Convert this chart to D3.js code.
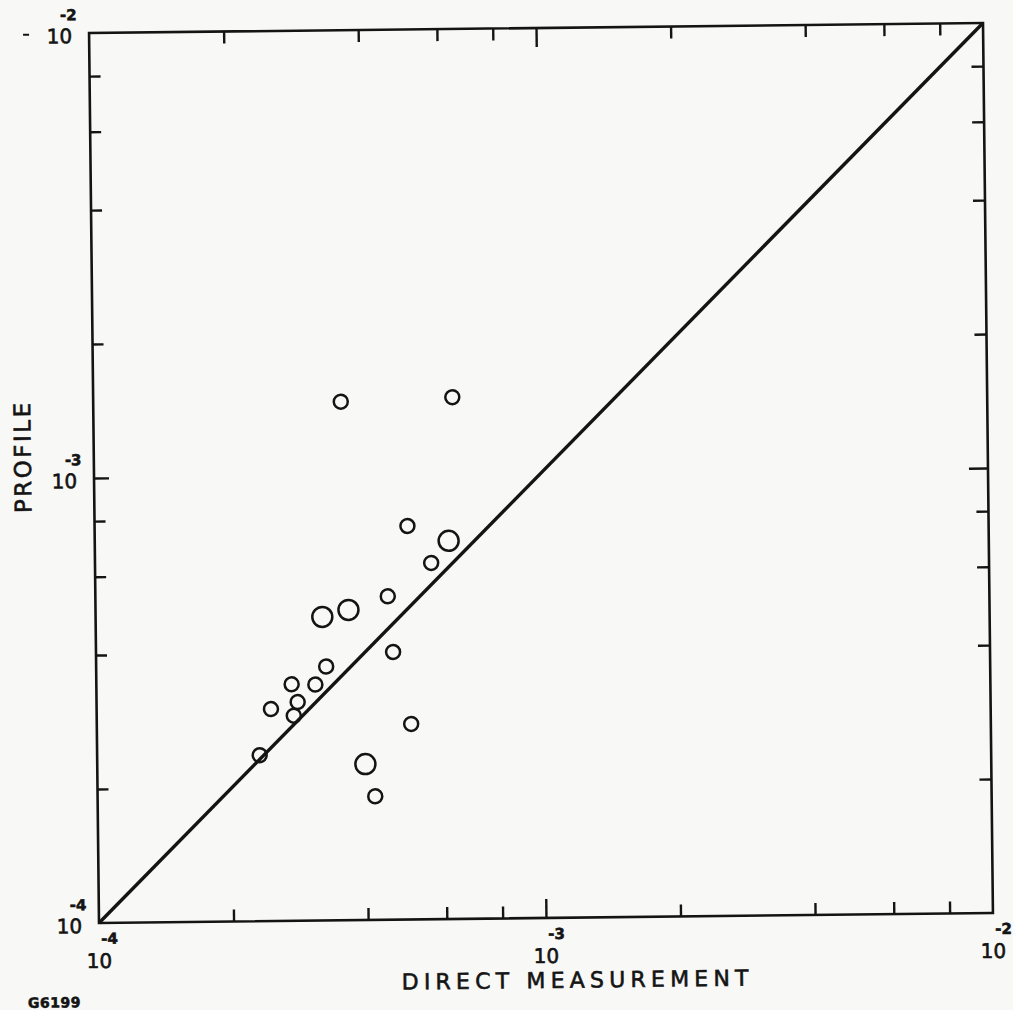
<!DOCTYPE html>
<html><head><meta charset="utf-8">
<script src="https://cdn.jsdelivr.net/npm/d3@7"></script>
<style>body{margin:0;background:#f8f8f6} svg{display:block}</style>
</head><body><svg id="c" width="1013" height="1010"></svg>
<script>
// ---- data ----
const directMeasurement = [3.58e-4, 6.36e-4, 5.01e-4, 6.19e-4, 5.65e-4, 4.51e-4, 3.215e-4, 3.68e-4, 4.62e-4, 3.27e-4, 2.735e-4, 3.09e-4, 2.455e-4, 2.818e-4, 2.76e-4, 2.31e-4, 5.05e-4, 3.98e-4, 4.18e-4];
const profile = [1.463e-3, 1.488e-3, 7.66e-4, 7.08e-4, 6.32e-4, 5.33e-4, 4.81e-4, 4.98e-4, 3.995e-4, 3.72e-4, 3.40e-4, 3.39e-4, 2.995e-4, 3.10e-4, 2.89e-4, 2.36e-4, 2.75e-4, 2.24e-4, 1.895e-4];
const markerSize = ["s","s","s","L","s","s","L","L","s","s","s","s","s","s","s","s","s","L","s"];
const minorTicks = [2e-4, 4e-4, 6e-4, 8e-4, 2e-3, 4e-3, 6e-3, 8e-3];
const majorTicks = [1e-3];
const decadeValues = [1e-4, 1e-3, 1e-2];
const decadeExponents = ["-4", "-3", "-2"];
const identityLine = [1e-4, 1e-2];
const xTitle = "DIRECT MEASUREMENT";
const yTitle = "PROFILE";
const figureId = "G6199";

// ---- layout ----
const svg = d3.select("#c");
svg.append("rect").attr("width",1013).attr("height",1010).attr("fill","#f8f8f6");
const g = svg.append("g").attr("transform","rotate(-0.64,541,473)");
const L=94, R=988, T=28, B=918;
const x = d3.scaleLog().domain([1e-4,1e-2]).range([L,R]);
const y = d3.scaleLog().domain([1e-4,1e-2]).range([B,T]);
const ink = "#141414";
const font = "'DejaVu Sans', sans-serif";

function axisStyle(sel){ sel.select(".domain").remove(); sel.selectAll("line").attr("stroke",ink).attr("stroke-width",2.4); sel.selectAll("text").remove(); }
// minor ticks (inward on all four sides)
g.append("g").attr("transform",`translate(0,${B})`).call(d3.axisBottom(x).tickValues(minorTicks).tickSize(-12).tickFormat("")).call(axisStyle);
g.append("g").attr("transform",`translate(0,${T})`).call(d3.axisTop(x).tickValues(minorTicks).tickSize(-12).tickFormat("")).call(axisStyle);
g.append("g").attr("transform",`translate(${L},0)`).call(d3.axisLeft(y).tickValues(minorTicks).tickSize(-11).tickFormat("")).call(axisStyle);
g.append("g").attr("transform",`translate(${R},0)`).call(d3.axisRight(y).tickValues(minorTicks).tickSize(-12).tickFormat("")).call(axisStyle);
// major ticks
g.append("g").attr("transform",`translate(0,${B})`).call(d3.axisBottom(x).tickValues(majorTicks).tickSize(-19).tickFormat("")).call(axisStyle);
g.append("g").attr("transform",`translate(0,${T})`).call(d3.axisTop(x).tickValues(majorTicks).tickSize(-19).tickFormat("")).call(axisStyle);
g.append("g").attr("transform",`translate(${L},0)`).call(d3.axisLeft(y).tickValues(majorTicks).tickSize(-15).tickFormat("")).call(axisStyle);
g.append("g").attr("transform",`translate(${R},0)`).call(d3.axisRight(y).tickValues(majorTicks).tickSize(-19).tickFormat("")).call(axisStyle);

// frame
g.append("rect").attr("x",L).attr("y",T).attr("width",R-L).attr("height",B-T)
  .attr("fill","none").attr("stroke",ink).attr("stroke-width",2.6);

// identity line
g.append("line").attr("x1",x(identityLine[0])).attr("y1",y(identityLine[0]))
  .attr("x2",x(identityLine[1])).attr("y2",y(identityLine[1]))
  .attr("stroke",ink).attr("stroke-width",3.4);

// points
g.selectAll("circle.pt").data(directMeasurement.map((d,i)=>({x:d,y:profile[i],s:markerSize[i]})))
  .enter().append("circle").attr("class","pt")
  .attr("cx",d=>x(d.x)).attr("cy",d=>y(d.y)).attr("r",d=>d.s==="L"?10:7)
  .attr("fill","none").attr("stroke",ink).attr("stroke-width",2.5);

function txt(sel){ return sel.attr("font-family",font).attr("fill",ink).attr("stroke",ink).attr("stroke-width",0.6); }
// decade labels
decadeValues.forEach((v,i)=>{
  txt(g.append("text")).attr("x",x(v)).attr("y",B+45).attr("text-anchor","middle")
    .attr("font-size",20).text("10");
  txt(g.append("text")).attr("x",x(v)+2).attr("y",B+21).attr("text-anchor","start")
    .attr("font-size",15).attr("font-weight","bold").text(decadeExponents[i]);
  txt(g.append("text")).attr("x",L-17).attr("y",y(v)+10).attr("text-anchor","end")
    .attr("font-size",20).text("10");
  txt(g.append("text")).attr("x",L-29).attr("y",y(v)-13).attr("text-anchor","start")
    .attr("font-size",15).attr("font-weight","bold").text(decadeExponents[i]);
});
// small dash left of the top label
g.append("line").attr("x1",L-66).attr("x2",L-60).attr("y1",T+1).attr("y2",T+1).attr("stroke",ink).attr("stroke-width",2);

// titles
txt(g.append("text")).attr("x",572).attr("y",B+70).attr("text-anchor","middle")
  .attr("font-size",22).attr("letter-spacing",5.2).text(xTitle);
txt(g.append("text")).attr("transform",`translate(31,451) rotate(-90)`).attr("text-anchor","middle")
  .attr("font-size",23).attr("letter-spacing",2.5).text(yTitle);
txt(g.append("text")).attr("x",22).attr("y",B+84).attr("text-anchor","start")
  .attr("font-size",14).attr("font-weight","bold").attr("letter-spacing",0.5).text(figureId);
</script></body></html>
